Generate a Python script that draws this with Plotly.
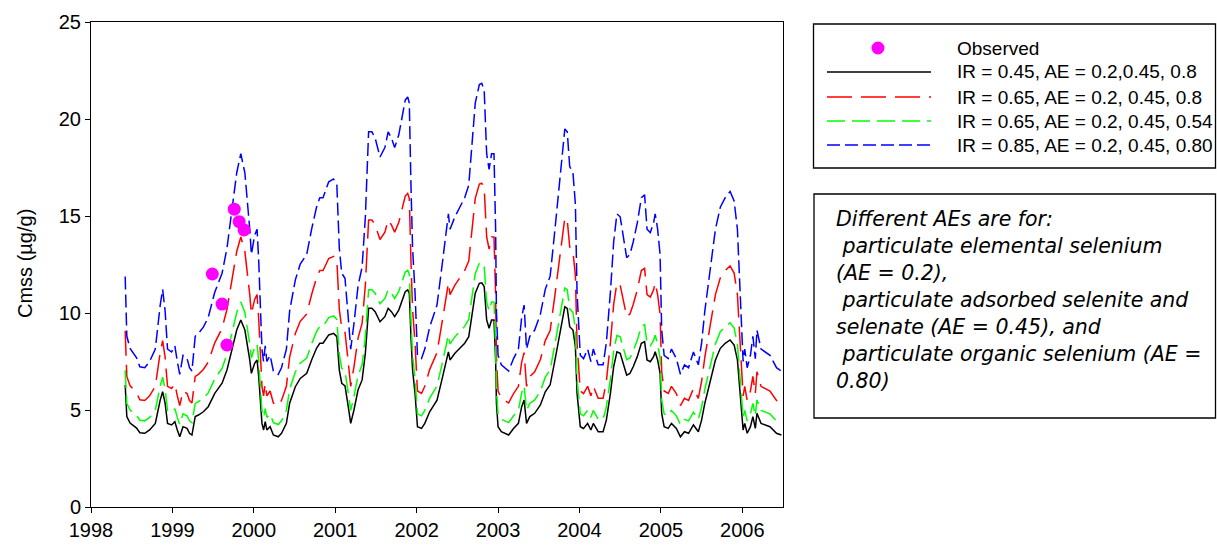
import plotly.graph_objects as go

# ---- data -----------------------------------------------------------------
years = [
    1998.42, 1998.44, 1998.48, 1998.52, 1998.56, 1998.60, 1998.66, 1998.72, 1998.79, 1998.85,
    1998.88, 1998.91, 1998.94, 1998.99, 1999.03, 1999.06, 1999.09, 1999.13, 1999.18, 1999.21,
    1999.24, 1999.28, 1999.32, 1999.38, 1999.44, 1999.52, 1999.61, 1999.67, 1999.73, 1999.79,
    1999.84, 1999.89, 1999.95, 1999.97, 2000.01, 2000.04, 2000.06, 2000.08, 2000.10, 2000.12,
    2000.14, 2000.16, 2000.20, 2000.24, 2000.30, 2000.34, 2000.40, 2000.44, 2000.51, 2000.57,
    2000.65, 2000.71, 2000.77, 2000.81, 2000.85, 2000.92, 2000.98, 2001.02, 2001.05, 2001.08,
    2001.12, 2001.16, 2001.19, 2001.23, 2001.28, 2001.33, 2001.37, 2001.41, 2001.45, 2001.49,
    2001.55, 2001.61, 2001.65, 2001.69, 2001.73, 2001.78, 2001.82, 2001.86, 2001.89, 2001.91,
    2001.93, 2001.95, 2001.98, 2002.01, 2002.06, 2002.10, 2002.16, 2002.20, 2002.25, 2002.31,
    2002.37, 2002.39, 2002.41, 2002.47, 2002.53, 2002.59, 2002.64, 2002.68, 2002.72, 2002.77,
    2002.80, 2002.83, 2002.86, 2002.89, 2002.92, 2002.95, 2002.97, 2002.98, 2003.00, 2003.04,
    2003.13, 2003.19, 2003.25, 2003.29, 2003.32, 2003.35, 2003.39, 2003.45, 2003.52, 2003.58,
    2003.64, 2003.70, 2003.76, 2003.82, 2003.85, 2003.88, 2003.92, 2003.95, 2003.97, 2004.01,
    2004.05, 2004.10, 2004.14, 2004.17, 2004.23, 2004.29, 2004.33, 2004.38, 2004.42, 2004.46,
    2004.50, 2004.54, 2004.58, 2004.62, 2004.66, 2004.71, 2004.76, 2004.80, 2004.83, 2004.87,
    2004.91, 2004.93, 2004.96, 2004.99, 2005.01, 2005.04, 2005.09, 2005.13, 2005.19, 2005.24,
    2005.29, 2005.34, 2005.40, 2005.46, 2005.50, 2005.54, 2005.60, 2005.67, 2005.73, 2005.79,
    2005.85, 2005.90, 2005.94, 2005.97, 2006.01, 2006.03, 2006.06, 2006.10, 2006.13, 2006.16,
    2006.18, 2006.23, 2006.28, 2006.34, 2006.42, 2006.48,
]

# IR = 0.45, AE = 0.2, 0.45, 0.8
cmss_ir045 = [
    6.29, 4.66, 4.33, 4.20, 4.07, 3.83, 3.80, 3.97, 4.31, 5.51,
    5.94, 5.36, 4.31, 4.23, 4.40, 3.97, 3.62, 4.14, 4.05, 3.80,
    3.71, 4.66, 4.74, 4.91, 5.17, 5.86, 6.38, 7.06, 8.09, 9.12,
    9.64, 9.12, 7.58, 6.89, 7.41, 7.58, 6.72, 5.17, 4.31, 3.97,
    4.40, 3.97, 4.14, 3.71, 3.62, 3.80, 4.31, 5.35, 6.20, 6.63,
    6.89, 7.58, 8.18, 8.44, 8.44, 8.87, 8.95, 8.78, 7.06, 6.38,
    6.24, 5.17, 4.31, 5.00, 6.03, 6.55, 7.92, 10.24, 10.24, 10.07,
    9.55, 9.81, 10.24, 10.07, 9.81, 10.15, 10.67, 11.10, 11.19, 11.02,
    8.78, 7.06, 5.86, 4.14, 4.05, 4.31, 4.91, 5.17, 5.51, 6.55,
    7.66, 8.00, 7.58, 7.92, 8.18, 8.44, 8.78, 9.98, 11.02, 11.53,
    11.56, 11.36, 9.64, 9.21, 9.64, 9.64, 7.58, 5.35, 4.14, 3.88,
    3.71, 4.05, 4.31, 5.17, 5.51, 4.31, 4.66, 4.83, 5.26, 5.94,
    6.30, 7.60, 9.00, 10.32, 10.24, 9.29, 9.12, 8.26, 5.86, 4.14,
    4.05, 4.31, 3.97, 4.31, 3.88, 3.88, 4.48, 5.86, 7.23, 8.00,
    7.92, 7.41, 6.80, 6.89, 7.23, 7.75, 8.44, 8.52, 7.58, 7.49,
    7.75, 8.00, 7.58, 6.89, 4.83, 4.14, 4.05, 4.31, 4.05, 3.62,
    3.88, 3.80, 4.23, 3.88, 4.48, 5.35, 6.38, 7.58, 8.18, 8.44,
    8.61, 8.35, 7.58, 5.86, 3.97, 4.31, 3.80, 4.14, 4.66, 4.05,
    4.83, 4.31, 4.23, 4.14, 3.80, 3.71,
]

# IR = 0.65, AE = 0.2, 0.45, 0.8
cmss_ir065 = [
    9.08, 6.73, 6.25, 6.06, 5.88, 5.53, 5.49, 5.73, 6.22, 7.96,
    8.58, 7.74, 6.22, 6.11, 6.35, 5.73, 5.23, 5.98, 5.85, 5.49,
    5.36, 6.73, 6.84, 7.09, 7.47, 8.46, 9.21, 10.19, 11.68, 13.17,
    13.92, 13.17, 10.95, 9.95, 10.70, 10.95, 9.70, 7.47, 6.22, 5.73,
    6.35, 5.73, 5.98, 5.36, 5.23, 5.49, 6.22, 7.73, 8.95, 9.57,
    9.95, 10.95, 11.81, 12.19, 12.19, 12.81, 12.92, 12.68, 10.19, 9.21,
    9.01, 7.47, 6.22, 7.22, 8.71, 9.46, 11.44, 14.79, 14.79, 14.54,
    13.79, 14.17, 14.79, 14.54, 14.17, 14.66, 15.41, 16.03, 16.16, 15.91,
    12.68, 10.19, 8.46, 5.98, 5.85, 6.22, 7.09, 7.47, 7.96, 9.46,
    11.06, 11.55, 10.95, 11.44, 11.81, 12.19, 12.68, 14.41, 15.91, 16.65,
    16.69, 16.40, 13.92, 13.30, 13.92, 13.92, 10.95, 7.73, 5.98, 5.60,
    5.36, 5.85, 6.22, 7.47, 7.96, 6.22, 6.73, 6.97, 7.60, 8.58,
    9.10, 10.97, 13.00, 14.90, 14.79, 13.41, 13.17, 11.93, 8.46, 5.98,
    5.85, 6.22, 5.73, 6.22, 5.60, 5.60, 6.47, 8.46, 10.44, 11.55,
    11.44, 10.70, 9.82, 9.95, 10.44, 11.19, 12.19, 12.30, 10.95, 10.82,
    11.19, 11.55, 10.95, 9.95, 6.97, 5.98, 5.85, 6.22, 5.85, 5.23,
    5.60, 5.49, 6.11, 5.60, 6.47, 7.73, 9.21, 10.95, 11.81, 12.19,
    12.43, 12.06, 10.95, 8.46, 5.73, 6.22, 5.49, 5.98, 6.73, 5.85,
    6.97, 6.22, 6.11, 5.98, 5.49, 5.36,
]

# IR = 0.65, AE = 0.2, 0.45, 0.54
cmss_ir065_ae054 = [
    7.05, 5.34, 5.00, 4.86, 4.72, 4.47, 4.44, 4.62, 4.98, 6.24,
    6.69, 6.08, 4.98, 4.89, 5.07, 4.62, 4.25, 4.80, 4.70, 4.44,
    4.35, 5.34, 5.43, 5.61, 5.88, 6.60, 7.15, 7.86, 8.94, 10.03,
    10.57, 10.03, 8.41, 7.68, 8.23, 8.41, 7.51, 5.88, 4.98, 4.62,
    5.07, 4.62, 4.80, 4.35, 4.25, 4.44, 4.98, 6.07, 6.96, 7.41,
    7.68, 8.41, 9.04, 9.31, 9.31, 9.76, 9.85, 9.67, 7.86, 7.15,
    7.00, 5.88, 4.98, 5.70, 6.78, 7.33, 8.77, 11.20, 11.20, 11.02,
    10.48, 10.75, 11.20, 11.02, 10.75, 11.11, 11.65, 12.11, 12.20, 12.02,
    9.67, 7.86, 6.60, 4.80, 4.70, 4.98, 5.61, 5.88, 6.24, 7.33,
    8.49, 8.85, 8.41, 8.77, 9.04, 9.31, 9.67, 10.93, 12.02, 12.56,
    12.59, 12.38, 10.57, 10.12, 10.57, 10.57, 8.41, 6.07, 4.80, 4.52,
    4.35, 4.70, 4.98, 5.88, 6.24, 4.98, 5.34, 5.52, 5.97, 6.69,
    7.07, 8.43, 9.90, 11.29, 11.20, 10.20, 10.03, 9.12, 6.60, 4.80,
    4.70, 4.98, 4.62, 4.98, 4.52, 4.52, 5.15, 6.60, 8.04, 8.85,
    8.77, 8.23, 7.59, 7.68, 8.04, 8.59, 9.31, 9.40, 8.41, 8.31,
    8.59, 8.85, 8.41, 7.68, 5.52, 4.80, 4.70, 4.98, 4.70, 4.25,
    4.52, 4.44, 4.89, 4.52, 5.15, 6.07, 7.15, 8.41, 9.04, 9.31,
    9.49, 9.22, 8.41, 6.60, 4.62, 4.98, 4.44, 4.80, 5.34, 4.70,
    5.52, 4.98, 4.89, 4.80, 4.44, 4.35,
]

# IR = 0.85, AE = 0.2, 0.45, 0.80
cmss_ir085 = [
    11.88, 8.80, 8.18, 7.93, 7.69, 7.23, 7.18, 7.50, 8.14, 10.41,
    11.22, 10.13, 8.14, 7.99, 8.31, 7.50, 6.84, 7.82, 7.65, 7.18,
    7.01, 8.80, 8.95, 9.27, 9.77, 11.07, 12.05, 13.34, 15.28, 17.23,
    18.21, 17.23, 14.32, 13.02, 14.00, 14.32, 12.69, 9.77, 8.14, 7.50,
    8.31, 7.50, 7.82, 7.01, 6.84, 7.18, 8.14, 10.11, 11.71, 12.52,
    13.02, 14.32, 15.45, 15.94, 15.94, 16.76, 16.91, 16.59, 13.34, 12.05,
    11.79, 9.77, 8.14, 9.45, 11.39, 12.37, 14.96, 19.34, 19.34, 19.02,
    18.04, 18.53, 19.34, 19.02, 18.53, 19.17, 20.16, 20.97, 21.14, 20.82,
    16.59, 13.34, 11.07, 7.82, 7.65, 8.14, 9.27, 9.77, 10.41, 12.37,
    14.47, 15.11, 14.32, 14.96, 15.45, 15.94, 16.59, 18.85, 20.82, 21.78,
    21.84, 21.46, 18.21, 17.40, 18.21, 18.21, 14.32, 10.11, 7.82, 7.33,
    7.01, 7.65, 8.14, 9.77, 10.41, 8.14, 8.80, 9.12, 9.94, 11.22,
    11.90, 14.36, 17.00, 19.49, 19.34, 17.55, 17.23, 15.60, 11.07, 7.82,
    7.65, 8.14, 7.50, 8.14, 7.33, 7.33, 8.46, 11.07, 13.66, 15.11,
    14.96, 14.00, 12.85, 13.02, 13.66, 14.64, 15.94, 16.09, 14.32, 14.15,
    14.64, 15.11, 14.32, 13.02, 9.12, 7.82, 7.65, 8.14, 7.65, 6.84,
    7.33, 7.18, 7.99, 7.33, 8.46, 10.11, 12.05, 14.32, 15.45, 15.94,
    16.26, 15.77, 14.32, 11.07, 7.50, 8.14, 7.18, 7.82, 8.80, 7.65,
    9.12, 8.14, 7.99, 7.82, 7.18, 7.01,
]

obs_years = [1999.49, 1999.61, 1999.67, 1999.76, 1999.82, 1999.88]
obs_values = [12.01, 10.46, 8.35, 15.35, 14.71, 14.28]

x_ticks = [1998, 1999, 2000, 2001, 2002, 2003, 2004, 2005, 2006]
y_ticks = [0, 5, 10, 15, 20, 25]

legend_labels = [
    "Observed",
    "IR = 0.45, AE = 0.2,0.45, 0.8",
    "IR = 0.65, AE = 0.2, 0.45, 0.8",
    "IR = 0.65, AE = 0.2, 0.45, 0.54",
    "IR = 0.85, AE = 0.2, 0.45, 0.80",
]

note_lines = [
    "Different AEs are for:",
    "\u00a0particulate elemental selenium",
    "(AE = 0.2),",
    "\u00a0particulate adsorbed selenite and",
    "selenate (AE = 0.45), and",
    "\u00a0particulate organic selenium (AE =",
    "0.80)",
]

# ---- styling --------------------------------------------------------------
W, H = 1217, 547
PL, PR, PT, PB = 91, 783, 22, 507   # plot area in pixels

FONT = "Liberation Sans, Arial, sans-serif"
MAGENTA = "#FF00FF"
series_styles = [
    dict(color="black", width=1.5, dash="solid"),
    dict(color="#FF0000", width=1.5, dash="25px,9px"),
    dict(color="#00FF00", width=1.5, dash="18px,7px"),
    dict(color="#0000FF", width=1.5, dash="13px,5px"),
]


def px(x):
    return (x - PL) / (PR - PL)


def py(y):
    return (PB - y) / (PB - PT)


fig = go.Figure()

for values, style, name in zip(
    [cmss_ir045, cmss_ir065, cmss_ir065_ae054, cmss_ir085],
    series_styles,
    legend_labels[1:],
):
    fig.add_trace(go.Scatter(
        x=years, y=values, mode="lines", name=name,
        line=style, showlegend=False,
    ))

fig.add_trace(go.Scatter(
    x=obs_years, y=obs_values, mode="markers", name=legend_labels[0],
    marker=dict(color=MAGENTA, size=13, line=dict(width=0)),
    showlegend=False,
))

shapes = []
annotations = []

# legend panel
shapes.append(dict(type="rect", xref="paper", yref="paper",
                   x0=px(813.5), x1=px(1215.5), y0=py(168), y1=py(24),
                   line=dict(color="black", width=1.3), fillcolor="white", layer="above"))
legend_rows = [48, 72, 97, 121, 145]
shapes.append(dict(type="circle", xref="paper", yref="paper",
                   x0=px(878 - 6.5), x1=px(878 + 6.5),
                   y0=py(legend_rows[0] + 6.5), y1=py(legend_rows[0] - 6.5),
                   fillcolor=MAGENTA, line=dict(width=0), layer="above"))
for row, style in zip(legend_rows[1:], series_styles):
    shapes.append(dict(type="line", xref="paper", yref="paper",
                       x0=px(827), x1=px(931), y0=py(row), y1=py(row),
                       line=style, layer="above"))
for row, label in zip(legend_rows, legend_labels):
    annotations.append(dict(text=label, xref="paper", yref="paper",
                            x=px(955), y=py(row), xanchor="left", yanchor="middle",
                            showarrow=False, font=dict(family=FONT, size=19, color="black")))

# note panel
shapes.append(dict(type="rect", xref="paper", yref="paper",
                   x0=px(814), x1=px(1215.5), y0=py(418), y1=py(194),
                   line=dict(color="black", width=1.3), fillcolor="white", layer="above"))
for i, line in enumerate(note_lines):
    annotations.append(dict(text=line, xref="paper", yref="paper",
                            x=px(834), y=py(219 + 27 * i), xanchor="left", yanchor="middle",
                            showarrow=False,
                            font=dict(family="DejaVu Sans, sans-serif", size=20.5,
                                      color="black", style="italic")))

# y-axis title
annotations.append(dict(text="Cmss (\u00b5g/g)", xref="paper", yref="paper",
                        x=px(25), y=py(264), xanchor="center", yanchor="middle",
                        textangle=-90, showarrow=False,
                        font=dict(family=FONT, size=20, color="black")))

axis_common = dict(
    showline=True, linecolor="black", linewidth=1, mirror=True,
    ticks="outside", ticklen=5, tickwidth=1, tickcolor="black",
    showgrid=False, zeroline=False, automargin=False,
    tickfont=dict(family=FONT, size=20, color="black"),
)

fig.update_layout(
    width=W, height=H,
    margin=dict(l=PL, r=W - PR, t=PT, b=H - PB, pad=0, autoexpand=False),
    paper_bgcolor="white", plot_bgcolor="white",
    xaxis=dict(range=[1998, 2006.5], tickvals=x_ticks, ticktext=[str(v) for v in x_ticks],
               **axis_common),
    yaxis=dict(range=[0, 25], tickvals=y_ticks, **axis_common),
    shapes=shapes,
    annotations=annotations,
    showlegend=False,
)

fig.write_html("out.html")
